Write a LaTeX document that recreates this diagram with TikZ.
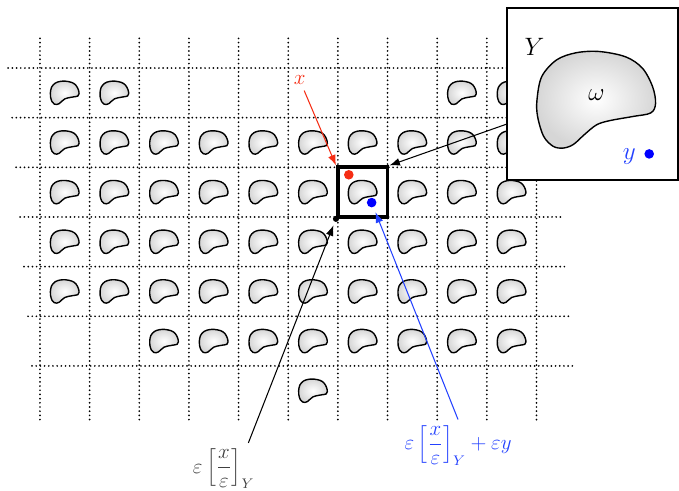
\documentclass[tikz,border=0pt]{standalone}
\usepackage{amsmath}
\usetikzlibrary{arrows.meta}

\definecolor{xred}{RGB}{245,45,20}
\definecolor{yblue}{RGB}{35,65,255}

\tikzset{
  gridline/.style={line width=1.1pt, line cap=round, dash pattern=on 0pt off 2.4pt},
  beanline/.style={draw, thick, inner color=white, outer color=gray!32},
  dot/.style={circle, fill, inner sep=0pt, minimum size=#1},
  bean/.pic={
    \draw[beanline] plot[smooth cycle, tension=0.55] coordinates
      {(0.05,0.81) (0.49,0.72) (0.77,0.53) (0.94,0.22) (0.99,-0.06)
       (0.91,-0.22) (0.61,-0.28) (0.22,-0.35) (0,-0.42) (-0.2,-0.58)
       (-0.39,-0.75) (-0.56,-0.81) (-0.73,-0.78) (-0.89,-0.61)
       (-0.99,-0.28) (-1,0) (-0.92,0.39) (-0.67,0.67) (-0.34,0.79)};
  },
}

\begin{document}
\begin{tikzpicture}[>={Latex[length=6pt,width=4.5pt]}]
    \useasboundingbox (-0.805,-1.51) rectangle (12.87,8.37);

    % Dotted lattice of period cells
    \foreach \x in {0,...,10} \draw[gridline] (\x,-0.08) -- (\x,7.6);
    \foreach \j in {0,...,6} \draw[gridline] (-0.64+0.08*\j,7-\j) -- ++(10.9,0);

    % Inclusions, one in each occupied cell
    \foreach \i in {0,1,8,9} \pic[scale=0.29] at (\i+0.5,6.5) {bean};
    \foreach \r in {1,...,4}
        \foreach \i in {0,...,9} \pic[scale=0.29] at (\i+0.5,6.5-\r) {bean};
    \foreach \i in {2,...,9} \pic[scale=0.29] at (\i+0.5,1.5) {bean};
    \pic[scale=0.29] at (5.5,0.5) {bean};

    % The cell that contains x
    \node[draw, line width=2.2pt, minimum size=1cm, inner sep=0pt] (cell) at (6.5,4.5) {};
    \node[dot=3.5pt] (corner) at (cell.south west) {};
    \node[dot=5.5pt, xred] (xpt) at (6.22,4.85) {};
    \node[dot=5.5pt, blue] (ypt) at (6.68,4.29) {};

    % Labels
    \node[xred, font=\large] (xlab) at (5.23,6.76) {$x$};
    \node[black!75, font=\large] (lab1) at (3.70,-1.07)
        {$\varepsilon\left[\dfrac{x}{\varepsilon}\right]_Y$};
    \node[yblue, font=\large] (lab2) at (8.42,-0.60)
        {$\varepsilon\left[\dfrac{x}{\varepsilon}\right]_Y+\varepsilon y$};

    \draw[->, semithick, xred] (xlab) -- (cell.north west);
    \draw[->, semithick, shorten >=2pt] ([xshift=-7pt]lab1.north east) -- (corner);
    \draw[->, semithick, yblue, shorten >=3pt] (lab2.north) -- (ypt);

    % Reference cell Y, magnified
    \coordinate (Yc) at (11.13,6.48);
    \draw[->, semithick] (Yc) -- (cell.north east);
    \node[draw, very thick, fill=white, minimum size=3.46cm, inner sep=0pt] (Ybox) at (Yc) {};
    \pic[scale=1.2] at (11.21,6.36) {bean};
    \node[font=\Large] (omega) at (11.21,6.46) {$\omega$};
    \node[font=\Large] (Ylab) at (9.96,7.43) {$Y$};
    \node[dot=5.5pt, blue] (ydot) at (12.27,5.27) {};
    \node[yblue, font=\Large] (ylab) at (11.87,5.22) {$y$};
\end{tikzpicture}
\end{document}
